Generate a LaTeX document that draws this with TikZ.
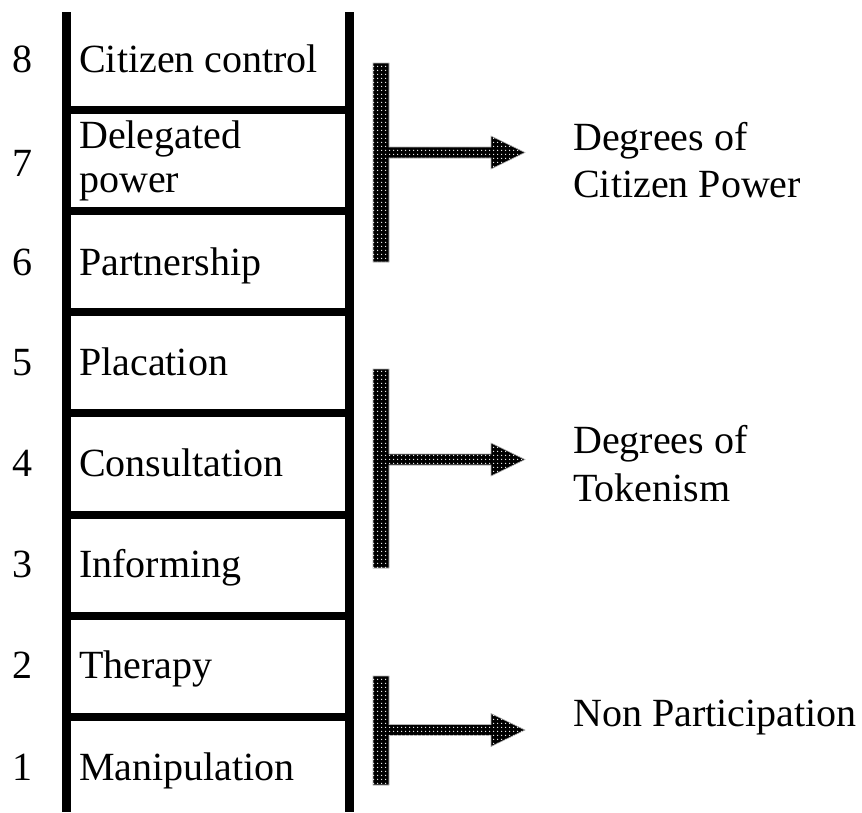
\documentclass[tikz,border=0pt]{standalone}
\usepackage{fontspec}
\setmainfont{Liberation Serif}
\usetikzlibrary{patterns.meta}
\tikzdeclarepattern{
  name=wdots, type=uncolored,
  bounding box={(0pt,0pt) and (4pt,4pt)},
  tile size={(4pt,4pt)},
  code={\fill (2pt,2pt) circle [radius=0.85pt];}
}
\newcommand{\tarrowshape}[3]{%
  \path[tbar] (373,#1) -- (389,#1) -- (389,#3-5.5) -- (491,#3-5.5) -- (491,#3-16.5)
    -- (525,#3) -- (491,#3+16.5) -- (491,#3+5.5) -- (389,#3+5.5) -- (389,#2)
    -- (373,#2) -- cycle;}
\begin{document}
\begin{tikzpicture}[x=1pt,y=-1pt,
  lbl/.style={font=\fontsize{40}{44}\selectfont, inner sep=0pt, anchor=base west},
  rail/.style={line width=9.5pt},
  rung/.style={line width=8.5pt},
  tbar/.style={fill=black, draw=gray!60, line width=0.6pt,
    postaction={pattern={wdots}, pattern color=white}}]
\useasboundingbox (0,0) rectangle (862,812);
% ladder
\draw[rail] (66.5,12) -- (66.5,812);
\draw[rail] (349.5,12) -- (349.5,812);
\foreach \y in {110,211,312,413,515,616,717}
  \draw[rung] (71,\y) -- (345,\y);
% numbers
\node[lbl] (n8) at (12,72) {8};
\node[lbl] (n7) at (12,176) {7};
\node[lbl] (n6) at (12,275) {6};
\node[lbl] (n5) at (12,375) {5};
\node[lbl] (n4) at (12,476) {4};
\node[lbl] (n3) at (12,577) {3};
\node[lbl] (n2) at (12,678) {2};
\node[lbl] (n1) at (12,780) {1};
% rung labels
\node[lbl] (l8) at (79,72) {Citizen control};
\node[lbl] (l7a) at (79,148) {Delegated};
\node[lbl] (l7b) at (79,192) {power};
\node[lbl] (l6) at (79,275) {Partnership};
\node[lbl] (l5) at (79,375) {Placation};
\node[lbl] (l4) at (79,476) {Consultation};
\node[lbl] (l3) at (79,577) {Informing};
\node[lbl] (l2) at (79,678) {Therapy};
\node[lbl] (l1) at (79,780) {Manipulation};
% bracket arrows
\tarrowshape{63}{262}{152.5}
\tarrowshape{369}{568}{459.5}
\tarrowshape{676}{785}{730}
% group labels
\node[lbl] (g3a) at (573,150) {Degrees of};
\node[lbl] (g3b) at (573,197) {Citizen Power};
\node[lbl] (g2a) at (573,453) {Degrees of};
\node[lbl] (g2b) at (573,501) {Tokenism};
\node[lbl] (g1) at (573,726) {Non Participation};
\end{tikzpicture}
\end{document}
